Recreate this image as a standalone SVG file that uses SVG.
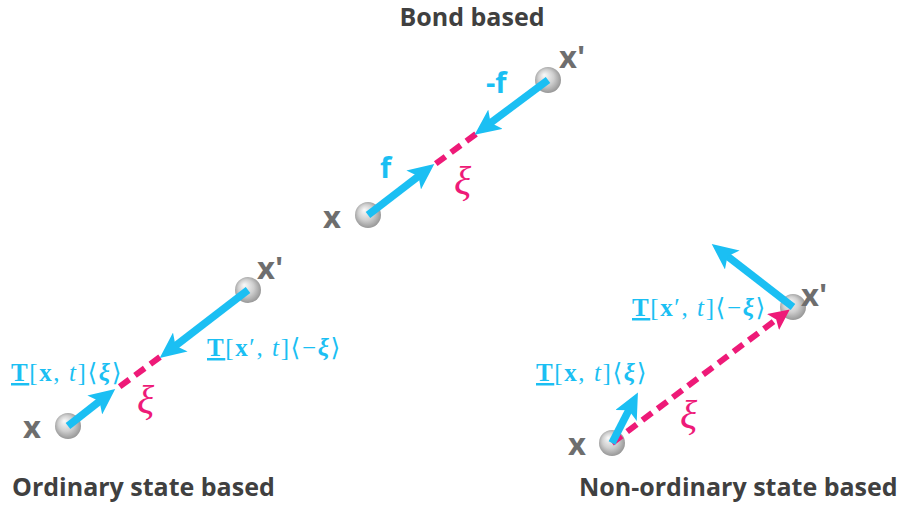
<svg xmlns="http://www.w3.org/2000/svg" width="900" height="506" viewBox="0 0 900 506">
<style>
.title{font-family:"Open Sans","Liberation Sans",sans-serif;font-weight:700;font-size:25px;fill:#404040}
.pt{font-family:"Open Sans","Liberation Sans",sans-serif;font-weight:700;font-size:31px;fill:#6e6e6e}
.force{font-family:"Open Sans","Liberation Sans",sans-serif;font-weight:700;font-size:29px;fill:#1bbff3}
.math{font-family:"Liberation Serif","DejaVu Serif",serif;font-size:25px;fill:#1bbff3;letter-spacing:1.6px}
.xi{font-family:"Liberation Serif","DejaVu Serif",serif;font-style:italic;font-size:40px;fill:#ee1a78}
.blue{stroke:#1bbff3;stroke-width:7.5;fill:none;marker-end:url(#ab)}
.pink{stroke:#ee1a78;stroke-width:6;fill:none;stroke-dasharray:12 7}
.b{font-weight:700}
.i{font-style:italic}
</style>
<defs>
<radialGradient id="sph" cx="0.5" cy="0.5" r="0.6" fx="0.35" fy="0.3">
<stop offset="0" stop-color="#fafafa"/>
<stop offset="0.5" stop-color="#cfcfcf"/>
<stop offset="1" stop-color="#858585"/>
</radialGradient>
<marker id="ab" markerUnits="userSpaceOnUse" markerWidth="28" markerHeight="24" viewBox="0 0 28 24" refX="13" refY="12" orient="auto">
<path d="M0,0 L26,12 L0,24 L6,12 Z" fill="#1bbff3"/>
</marker>
<marker id="ap" markerUnits="userSpaceOnUse" markerWidth="22" markerHeight="20" viewBox="0 0 22 20" refX="10" refY="10" orient="auto">
<path d="M0,0 L21,10 L0,20 L4,10 Z" fill="#ee1a78"/>
</marker>
</defs>
<rect width="900" height="506" fill="#ffffff"/>

<text class="title" x="472" y="26" text-anchor="middle">Bond based</text>
<text class="title" x="12" y="496">Ordinary state based</text>
<text class="title" x="579" y="496">Non-ordinary state based</text>

<!-- Bond based nodes -->
<g id="bond-x">
<circle cx="368" cy="215" r="13" fill="url(#sph)"/>
<text class="pt" x="323" y="228">x</text>
</g>
<g id="bond-xp">
<circle cx="548" cy="80" r="13" fill="url(#sph)"/>
<text class="pt" x="559" y="68">x'</text>
</g>
<!-- Ordinary nodes -->
<g id="ord-x">
<circle cx="68" cy="426" r="13" fill="url(#sph)"/>
<text class="pt" x="23" y="438">x</text>
</g>
<g id="ord-xp">
<circle cx="248" cy="290" r="13" fill="url(#sph)"/>
<text class="pt" x="257" y="279">x'</text>
</g>
<!-- Non-ordinary nodes -->
<g id="non-x">
<circle cx="612" cy="443" r="13" fill="url(#sph)"/>
<text class="pt" x="568" y="455">x</text>
</g>
<g id="non-xp">
<circle cx="793" cy="307" r="13" fill="url(#sph)"/>
<text class="pt" x="801" y="306">x'</text>
</g>

<g id="connectors">
<!-- bond -->
<line class="pink" x1="476" y1="134" x2="434" y2="165"/>
<line class="blue" x1="548" y1="80" x2="485" y2="127"/>
<line class="blue" x1="368" y1="215" x2="424" y2="172"/>
<!-- ordinary -->
<line class="pink" x1="160" y1="357" x2="115" y2="390"/>
<line class="blue" x1="248" y1="290" x2="170" y2="350"/>
<line class="blue" x1="68" y1="426" x2="105" y2="397"/>
<!-- non-ordinary -->
<line class="pink" x1="612" y1="443" x2="781" y2="316" marker-end="url(#ap)"/>
<line class="blue" x1="793" y1="307" x2="722" y2="252"/>
<line class="blue" x1="612" y1="443" x2="632" y2="404"/>
</g>

<!-- labels -->
<text class="force" x="486" y="93">-f</text>
<text class="force" x="380" y="178">f</text>
<text class="xi" x="454" y="194">ξ</text>

<text class="math" x="207" y="356"><tspan class="b" text-decoration="underline">T</tspan>[<tspan class="b">x</tspan>′, <tspan class="i">t</tspan>]⟨−<tspan class="b i">ξ</tspan>⟩</text>
<text class="math" x="11" y="381"><tspan class="b" text-decoration="underline">T</tspan>[<tspan class="b">x</tspan>, <tspan class="i">t</tspan>]⟨<tspan class="b i">ξ</tspan>⟩</text>
<text class="xi" x="137" y="413">ξ</text>

<text class="math" x="632" y="316"><tspan class="b" text-decoration="underline">T</tspan>[<tspan class="b">x</tspan>′, <tspan class="i">t</tspan>]⟨−<tspan class="b i">ξ</tspan>⟩</text>
<text class="math" x="536" y="381"><tspan class="b" text-decoration="underline">T</tspan>[<tspan class="b">x</tspan>, <tspan class="i">t</tspan>]⟨<tspan class="b i">ξ</tspan>⟩</text>
<text class="xi" x="680" y="428">ξ</text>
</svg>
